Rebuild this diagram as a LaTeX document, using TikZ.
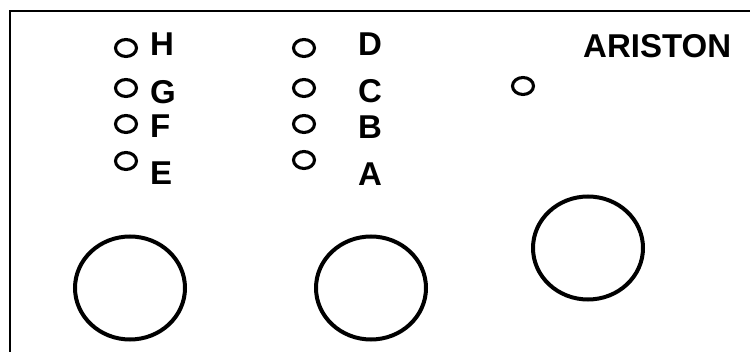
\documentclass[tikz,border=0pt]{standalone}
\usetikzlibrary{shapes.geometric}
\usepackage{fontspec}
\setmainfont{Liberation Sans}
\begin{document}
\begin{tikzpicture}[x=1pt,y=-1pt,
  lamp/.style={draw,line width=3.1pt,ellipse,minimum width=21pt,minimum height=17pt,inner sep=0pt},
  knob/.style={draw,line width=4pt,ellipse,minimum width=110pt,minimum height=103pt,inner sep=0pt},
  lbl/.style={font=\fontsize{33}{33}\selectfont\bfseries,inner sep=0pt,anchor=west},
  frame/.style={line width=2.8pt}]
\useasboundingbox (0,0) rectangle (750,352);
\draw[frame] (10,400) -- (10,11) -- (800,11);
% left column
\node[lamp] (lh) at (126,48) {};
\node[lamp] (lg) at (126,88) {};
\node[lamp] (lf) at (126,124) {};
\node[lamp] (le) at (126,161) {};
\node[lbl] (th) at (150,44) {H};
\node[lbl] (tg) at (150,92) {G};
\node[lbl] (tf) at (150,126) {F};
\node[lbl] (te) at (150,173) {E};
% middle column
\node[lamp] (ld) at (304,48) {};
\node[lamp] (lc) at (304,88) {};
\node[lamp] (lb) at (304,124) {};
\node[lamp] (la) at (304,160) {};
\node[lbl] (td) at (358,44) {D};
\node[lbl] (tc) at (358,91) {C};
\node[lbl] (tb) at (358,127) {B};
\node[lbl] (ta) at (358,174) {A};
% right
\node[lbl] (ar) at (583,46) {ARISTON};
\node[lamp] (lr) at (523,86) {};
% knobs
\node[knob] (k1) at (130,288) {};
\node[knob] (k2) at (371,288) {};
\node[knob] (k3) at (588,248) {};
\end{tikzpicture}
\end{document}
